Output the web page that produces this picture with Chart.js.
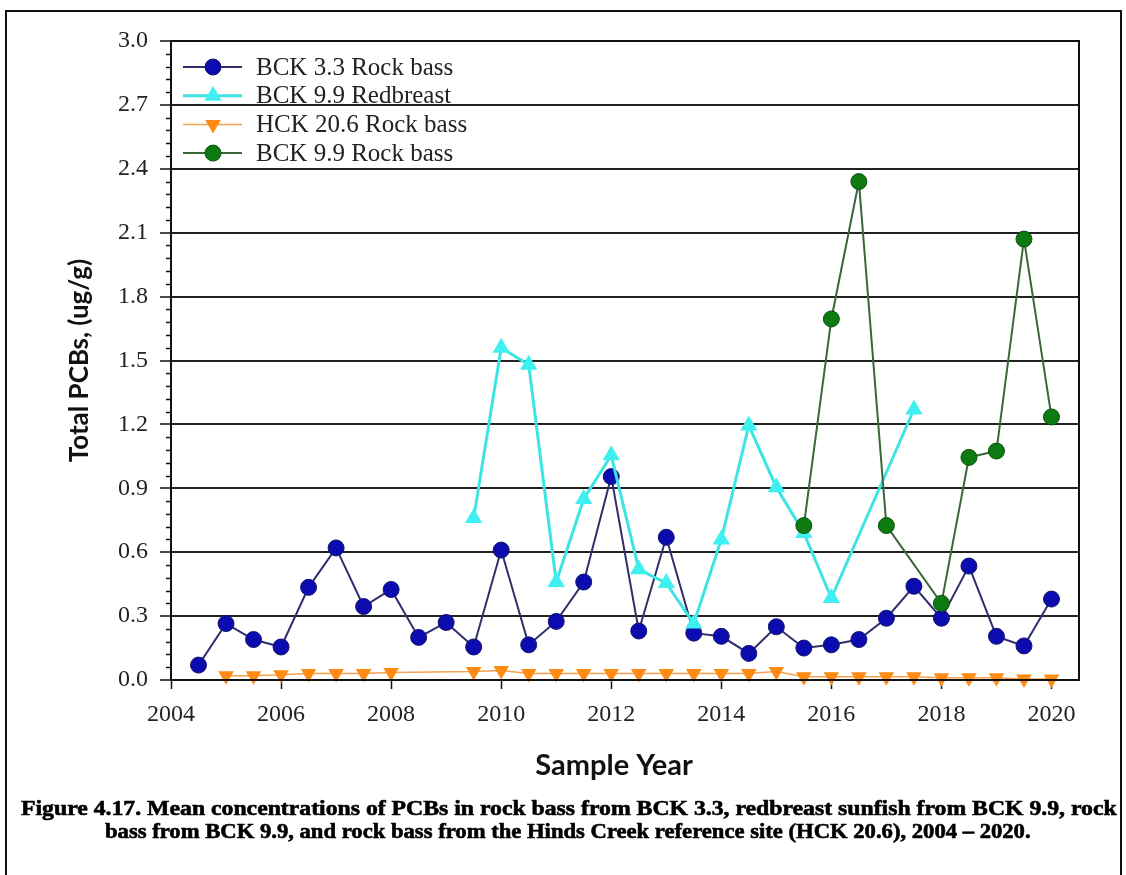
<!DOCTYPE html>
<html><head><meta charset="utf-8">
<script src="https://cdn.jsdelivr.net/npm/chart.js@4.4.1/dist/chart.umd.min.js"></script>
<style>
html,body{margin:0;padding:0;background:#fff;}
body{width:1126px;height:875px;position:relative;overflow:hidden;}
#frame{position:absolute;left:5px;top:10px;width:1113px;height:900px;border:2px solid #111;}
#c{position:absolute;left:0;top:0;}
.cap{position:absolute;left:0;top:0;white-space:nowrap;font-family:"Liberation Serif",serif;font-weight:bold;font-size:21px;line-height:21px;color:#000;-webkit-text-stroke:0.6px #000;transform-origin:0 0;}
</style></head><body>
<div id="frame"></div>
<canvas id="c" width="1126" height="875"></canvas>
<div class="cap" id="cap1">Figure 4.17. Mean concentrations of PCBs in rock bass from BCK 3.3, redbreast sunfish from BCK 9.9, rock</div>
<div class="cap" id="cap2">bass from BCK 9.9, and rock bass from the Hinds Creek reference site (HCK 20.6), 2004 – 2020.</div>
<script>
// ---- data ----
const seriesNames = ['BCK 3.3 Rock bass', 'BCK 9.9 Redbreast', 'HCK 20.6 Rock bass', 'BCK 9.9 Rock bass'];

const bck33Years  = [2004.5,2005,2005.5,2006,2006.5,2007,2007.5,2008,2008.5,2009,2009.5,2010,2010.5,2011,2011.5,2012,2012.5,2013,2013.5,2014,2014.5,2015,2015.5,2016,2016.5,2017,2017.5,2018,2018.5,2019,2019.5,2020];
const bck33Values = [0.07,0.265,0.19,0.155,0.435,0.62,0.345,0.425,0.20,0.27,0.155,0.61,0.165,0.275,0.46,0.955,0.23,0.67,0.22,0.205,0.125,0.25,0.15,0.165,0.19,0.29,0.44,0.29,0.535,0.205,0.16,0.38];

const redbreastYears  = [2009.5,2010,2010.5,2011,2011.5,2012,2012.5,2013,2013.5,2014,2014.5,2015,2015.5,2016,2017.5];
const redbreastValues = [0.76,1.56,1.48,0.46,0.85,1.055,0.52,0.455,0.265,0.66,1.195,0.905,0.69,0.385,1.27];

const hckYears  = [2005,2005.5,2006,2006.5,2007,2007.5,2008,2009.5,2010,2010.5,2011,2011.5,2012,2012.5,2013,2013.5,2014,2014.5,2015,2015.5,2016,2016.5,2017,2017.5,2018,2018.5,2019,2019.5,2020];
const hckValues = [0.02,0.02,0.025,0.03,0.03,0.03,0.035,0.04,0.045,0.03,0.03,0.03,0.03,0.03,0.03,0.03,0.03,0.03,0.04,0.015,0.015,0.015,0.015,0.015,0.01,0.01,0.01,0.005,0.005];

const bck99RbYears  = [2015.5,2016,2016.5,2017,2018,2018.5,2019,2019.5,2020];
const bck99RbValues = [0.725,1.695,2.34,0.725,0.36,1.045,1.075,2.07,1.235];

const xMin = 2004, xMax = 2020.5, xStep = 2;
const yMin = 0, yMax = 3.0, yStep = 0.3, yMinorStep = 0.06;
const xTitle = 'Sample Year', yTitle = 'Total PCBs, (ug/g)';

// ---- chart ----
const toXY = (xs, ys) => xs.map((x, i) => ({x: x, y: ys[i]}));
const serif = 'Liberation Serif';

const datasets = [
  {label: seriesNames[0], data: toXY(bck33Years, bck33Values), borderColor:'#2f2f6c', backgroundColor:'#0b0bb0',
   pointBorderColor:'#15156a', pointBorderWidth:1, pointStyle:'circle', pointRadius:8, borderWidth:2, order:3},
  {label: seriesNames[1], data: toXY(redbreastYears, redbreastValues), borderColor:'#3ee4e4', backgroundColor:'#40f0f0',
   pointBorderColor:'#40f0f0', pointBorderWidth:0, pointStyle:'triangle', pointRadius:10, borderWidth:3, order:2},
  {label: seriesNames[2], data: toXY(hckYears, hckValues), borderColor:'#f6a150', backgroundColor:'#ff8a14',
   pointBorderColor:'#ff8a14', pointBorderWidth:0, pointStyle:'triangle', pointRotation:180, pointRadius:9, borderWidth:1.5, order:1},
  {label: seriesNames[3], data: toXY(bck99RbYears, bck99RbValues), borderColor:'#3a663a', backgroundColor:'#0e7a12',
   pointBorderColor:'#0a520a', pointBorderWidth:1, pointStyle:'circle', pointRadius:8, borderWidth:2, order:0}
];
datasets.forEach(d => { d.tension = 0; d.fill = false; d.clip = false; d.pointHoverRadius = d.pointRadius; });

const extras = {
  id: 'extras',
  afterDraw(chart) {
    const ctx = chart.ctx, a = chart.chartArea, y = chart.scales.y;
    ctx.save();
    // frame
    ctx.strokeStyle = '#111'; ctx.lineWidth = 2;
    ctx.strokeRect(a.left, a.top, a.right - a.left, a.bottom - a.top);
    // minor ticks
    ctx.lineWidth = 1.5;
    const n = Math.round((yMax - yMin) / yMinorStep);
    const per = Math.round(yStep / yMinorStep);
    for (let i = 0; i <= n; i++) {
      if (i % per === 0) continue;
      const py = Math.round(y.getPixelForValue(yMin + i * yMinorStep)) + 0.5;
      ctx.beginPath(); ctx.moveTo(a.left - 5, py); ctx.lineTo(a.left, py); ctx.stroke();
    }
    // x title (slightly left of centre, as in the original)
    ctx.fillStyle = '#111';
    ctx.font = 'bold 29px Lato';
    ctx.textAlign = 'center'; ctx.textBaseline = 'middle';
    ctx.fillText(xTitle, a.left + 443, a.bottom + 86);
    // legend
    const lx0 = a.left + 12, lx1 = a.left + 71, mx = a.left + 42, tx = a.left + 85;
    ctx.font = '25px "' + serif + '"';
    ctx.textBaseline = 'middle'; ctx.textAlign = 'left';
    chart.data.datasets.forEach((d, i) => {
      const ly = a.top + 26 + i * 28.7;
      ctx.strokeStyle = d.borderColor; ctx.lineWidth = d.borderWidth;
      ctx.beginPath(); ctx.moveTo(lx0, ly); ctx.lineTo(lx1, ly); ctx.stroke();
      ctx.fillStyle = d.backgroundColor; ctx.strokeStyle = d.pointBorderColor; ctx.lineWidth = d.pointBorderWidth;
      Chart.helpers.drawPoint(ctx, {pointStyle: d.pointStyle, radius: d.pointRadius, rotation: d.pointRotation || 0, borderWidth: d.pointBorderWidth}, mx, ly);
      ctx.fillStyle = '#222';
      ctx.fillText(d.label, tx, ly + 1);
    });
    ctx.restore();
  }
};

new Chart(document.getElementById('c'), {
  type: 'line',
  data: {datasets: datasets},
  plugins: [extras],
  options: {
    responsive: false, animation: false, devicePixelRatio: 1,
    layout: {padding: {left: 62, right: 47, top: 41, bottom: 90}},
    plugins: {legend: {display: false}, tooltip: {enabled: false}},
    scales: {
      x: {
        type: 'linear', min: xMin, max: xMax,
        afterFit: s => { s.height = 105; },
        ticks: {stepSize: xStep, includeBounds: false, autoSkip: false, maxRotation: 0,
                callback: v => String(v), font: {family: serif, size: 24}, color: '#222', padding: 11},
        grid: {drawOnChartArea: false, drawTicks: true, tickLength: 9, color: '#111', tickColor: '#111', tickWidth: 1.5},
        border: {display: true, color: '#111', width: 2},
        title: {display: false}
      },
      y: {
        min: yMin, max: yMax,
        afterFit: s => { s.width = 109; },
        ticks: {stepSize: yStep, callback: v => v.toFixed(1), font: {family: serif, size: 24}, color: '#222', padding: 12},
        grid: {color: '#222', lineWidth: 2, tickLength: 11, tickColor: '#111', tickWidth: 1.5},
        border: {display: true, color: '#111', width: 2},
        title: {display: true, text: yTitle, font: {family: 'Lato', weight: 'bold', size: 26}, color: '#111', padding: {top: 2, bottom: 0}}
      }
    }
  }
});

// caption fit
function fitCap(id, cx, cy, w) {
  const el = document.getElementById(id);
  const nat = el.offsetWidth;
  const s = w / nat;
  el.style.left = (cx - w / 2) + 'px';
  el.style.top = (cy - 10.5) + 'px';
  el.style.transform = 'scaleX(' + s + ')';
}
fitCap('cap1', 569, 808, 1096);
fitCap('cap2', 568, 831, 926);
</script>
</body></html>
